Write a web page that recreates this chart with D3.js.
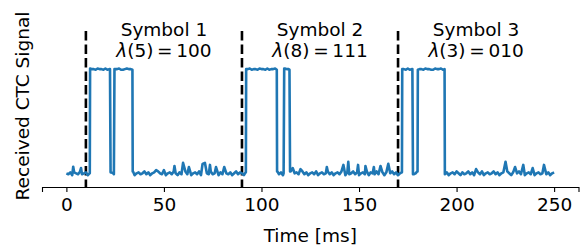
<!DOCTYPE html>
<html>
<head>
<meta charset="utf-8">
<script src="https://cdn.jsdelivr.net/npm/d3@7"></script>
<style>
  body { margin: 0; background: #fff; }
  svg { display: block; font-family: 'DejaVu Sans', sans-serif; }
</style>
</head>
<body>
<script>
const width = 584
const height = 246
const blue = '#1f77b4'
const fontSize = 18.5

// pulse edges [start, end] in ms
const pulses = [[12, 22.5], [24.5, 34], [92, 108], [111.5, 114.5], [172, 177.5], [180, 194]]
// symbol boundaries in ms
const boundaries = [10, 90, 170]
const symbolNames = ['Symbol 1', 'Symbol 2', 'Symbol 3']
const symbolArgs = ['5', '8', '3']
const symbolBits = ['100', '111', '010']
const symbolCenters = [50, 130, 210]
// noise spikes on the low level [time, value]
const spikes = [
  [3.5, 0.063], [7.5, 0.05],
  [46, 0.03], [50, 0.03], [55.4, 0.07], [59.8, 0.1], [62.8, 0.06], [69.8, 0.09],
  [71, 0.1], [73.6, 0.08], [76.7, 0.06], [80.9, 0.06],
  [116, 0.05], [120, 0.04], [133.5, 0.06], [142, 0.08], [144.5, 0.11], [149.5, 0.08],
  [153.3, 0.07], [157.6, 0.06], [161, 0.07], [165, 0.09],
  [210, 0.04], [225.1, 0.11], [230, 0.06], [234.2, 0.08], [239, 0.05], [244.8, 0.08]
]
// per-ms jitter of the trace (t = 0..250)
const jitter = [
  0, -1, 1, -2, 1, 0, -1, 2, -1, 0, 1, -2, 0, 1, -1, 2, 0, -1, 1, -2, 0, 2, -1, 1, 0,
  -1, 1, 0, -2, 2, -1, 0, 1, -1, 2, -2, 0, 1, -1, 0, 2, -1, 1, -2, 0, 1, -1, 2, 0, -1,
  1, -2, 0, 1, -1, 2, 0, -2, 1, -1, 0, 2, -1, 1, -2, 0, 1, -1, 2, -2, 0, 1, 0, -1, 2,
  -1, 0, 1, -2, 1, -1, 2, 0, -1, 1, -2, 0, 2, -1, 1, 0, -2, 1, -1, 0, 2, -1, 1, -2, 0,
  1, -1, 2, 0, -2, 1, -1, 0, 2, -1, 1, -2, 0, 1, -1, 2, -2, 0, 1, -1, 0, 2, -1, 1, -2,
  0, 1, -1, 2, -2, 0, 1, -1, 0, 2, -1, 1, -2, 0, 1, -1, 2, 0, -2, 1, -1, 0, 2, -1, 1,
  -2, 0, 1, -1, 2, -2, 1, 0, -1, 2, -1, 0, 1, -2, 1, -1, 0, 2, -1, 1, -2, 0, 1, -1, 2,
  0, -2, 1, -1, 0, 2, -1, 1, -2, 0, 1, -1, 2, -2, 0, 1, -1, 0, 2, -1, 1, -2, 0, 1, -1,
  2, 0, -2, 1, -1, 0, 2, -1, 1, -2, 0, 1, -1, 2, -2, 0, 1, -1, 0, 2, -1, 1, -2, 0, 1,
  -1, 2, 0, -2, 1, -1, 0, 2, -1, 1, -2, 0, 1, -1, 2, -2, 0, 1, -1, 0, 2, -1, 1, -2, 0,
  1
]
const xTicks = [0, 50, 100, 150, 200, 250]

const svg = d3.select('body').append('svg')
  .attr('width', width)
  .attr('height', height)

const x = d3.scaleLinear().domain([-12.5, 262.5]).range([42, 578.5])
const y = d3.scaleLinear().domain([0, 1]).range([173.3, 68.5])
const axisY = 187

const isHigh = t => pulses.some(([a, b]) => t > a && t < b)
const lowVal = i => jitter[i] * 0.009
const highVal = i => 1 - Math.abs(jitter[i]) * 0.006

// build trace points
let points = jitter.map((j, t) => [t, isHigh(t) ? highVal(t) : lowVal(t)])
pulses.forEach(([a, b]) => {
  const ia = Math.round(a), ib = Math.round(b)
  points.push([a - 0.15, lowVal(ia)], [a + 0.15, highVal(ia)])
  points.push([b - 0.15, highVal(ib)], [b + 0.15, lowVal(ib)])
})
spikes.forEach(([t, v]) => {
  points = points.filter(p => Math.abs(p[0] - t) > 0.3)
  points.push([t, v])
})
points.sort((p, q) => p[0] - q[0])

// dashed symbol boundaries
svg.selectAll('line.bound').data(boundaries).enter().append('line')
  .attr('class', 'bound')
  .attr('x1', d => x(d)).attr('x2', d => x(d))
  .attr('y1', 31).attr('y2', axisY)
  .attr('stroke', '#000')
  .attr('stroke-width', 2.6)
  .attr('stroke-dasharray', '9.5,4')

// trace
svg.append('path')
  .datum(points)
  .attr('fill', 'none')
  .attr('stroke', blue)
  .attr('stroke-width', 2.6)
  .attr('stroke-linejoin', 'round')
  .attr('d', d3.line().x(d => x(d[0])).y(d => y(d[1])))

// x axis
const axis = svg.append('g')
  .attr('transform', `translate(0,${axisY})`)
  .call(d3.axisBottom(x).tickValues(xTicks).tickSizeOuter(0).tickSize(5).tickPadding(6))
axis.select('.domain').attr('stroke-width', 1.1)
axis.selectAll('.tick line').attr('stroke-width', 1.1)
axis.selectAll('.tick text')
  .attr('font-family', 'DejaVu Sans')
  .attr('font-size', fontSize)
  .attr('fill', '#000')

svg.append('text')
  .attr('x', x(125)).attr('y', 242)
  .attr('text-anchor', 'middle')
  .attr('font-size', fontSize)
  .text('Time [ms]')

svg.append('text')
  .attr('transform', `translate(29,${106}) rotate(-90)`)
  .attr('text-anchor', 'middle')
  .attr('font-size', fontSize)
  .text('Received CTC Signal')

// symbol labels
symbolCenters.forEach((c, i) => {
  svg.append('text')
    .attr('x', x(c)).attr('y', 36)
    .attr('text-anchor', 'middle')
    .attr('font-size', fontSize)
    .text(symbolNames[i])
  const t = svg.append('text')
    .attr('x', x(c)).attr('y', 57)
    .attr('text-anchor', 'middle')
    .attr('font-size', fontSize)
  t.append('tspan').attr('font-style', 'italic').text('λ')
  t.append('tspan').text(`(${symbolArgs[i]})\u2009=\u2009${symbolBits[i]}`)
})
</script>
</body>
</html>
